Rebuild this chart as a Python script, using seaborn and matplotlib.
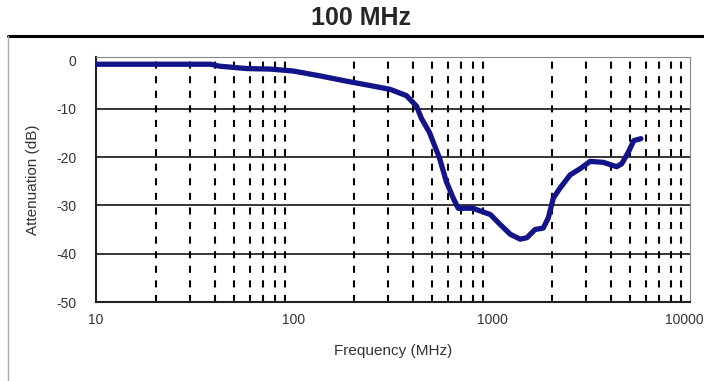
import numpy as np
import pandas as pd
import matplotlib
matplotlib.use("Agg")
import matplotlib.pyplot as plt
import matplotlib.transforms as mtransforms
from matplotlib.lines import Line2D
import seaborn as sns

# curve: frequency (MHz) and attenuation (dB)
freq = [10, 20, 38, 42, 58, 76, 99, 135, 184, 242, 306, 370, 416, 440, 483,
        544, 588, 637, 675, 800, 981, 1102, 1238, 1390, 1500, 1650, 1815,
        1924, 2040, 2200, 2480, 2790, 3130, 3650, 4260, 4520, 4880, 5200, 5650]
atten = [-0.8, -0.8, -0.8, -1.2, -1.7, -1.8, -2.2, -3.2, -4.3, -5.2, -6.0,
         -7.3, -9.5, -12.0, -14.9, -20.3, -25.1, -28.5, -30.6, -30.6, -31.9,
         -34.0, -36.0, -37.0, -36.7, -35.0, -34.7, -32.6, -28.5, -26.5,
         -23.7, -22.4, -20.9, -21.1, -22.0, -21.4, -19.0, -16.6, -16.2]

y_ticks = [0, -10, -20, -30, -40, -50]
x_ticks = [10, 100, 1000, 10000]
x_tick_labels = ['10', '100', '1000', '10000']

dados = pd.DataFrame({'Frequency (MHz)': freq, 'Attenuation (dB)': atten})

sns.set_style('white')
plt.rcParams['font.family'] = ['Liberation Sans', 'DejaVu Sans']

fig = plt.figure(figsize=(7.04, 3.81), dpi=100)
ax = fig.add_axes([96/704, 1 - 302/381, (690 - 96)/704, (302 - 57)/381])

#Linhas de grade: horizontais sólidas e verticais tracejadas
for v in [-10, -20, -30, -40]:
    ax.axhline(v, color='black', lw=1.1, zorder=1)
for dec in [10, 100, 1000]:
    for k in range(2, 10):
        ax.axvline(dec * k, color='black', lw=1.5, linestyle=(0, (3.4, 3.6)), zorder=1)

sns.lineplot(data=dados, x='Frequency (MHz)', y='Attenuation (dB)', ax=ax,
             color='#14148a', lw=3.8, zorder=3)

ax.set_xscale('log')
ax.set_xlim(10, 10000)
ax.set_ylim(-50, 0.7)
ax.set_xticks(x_ticks)
ax.set_xticklabels(x_tick_labels)
ax.set_yticks(y_ticks)
ax.set_yticklabels([str(t) for t in y_ticks])
ax.minorticks_off()
ax.tick_params(length=0, labelsize=10, labelcolor='#333333')
ax.tick_params(axis='x', pad=8)
ax.tick_params(axis='y', pad=14)

# o último rótulo fica um pouco à esquerda para caber na figura
ultimo = ax.get_xticklabels()[-1]
ultimo.set_transform(ultimo.get_transform() +
                     mtransforms.ScaledTranslation(-6/100, 0, fig.dpi_scale_trans))

ax.set_xlabel('Frequency (MHz)', fontsize=11, color='#333333', labelpad=12)
ax.set_ylabel('Attenuation (dB)', fontsize=11, color='#333333', labelpad=12)

for s in ['left', 'bottom']:
    ax.spines[s].set_color('#222222')
    ax.spines[s].set_linewidth(1.5)
for s in ['top', 'right']:
    ax.spines[s].set_color('#888888')
    ax.spines[s].set_linewidth(0.8)

fig.text(361/704, 1 - 18/381, '100 MHz', ha='center', va='center',
         fontsize=18, fontweight='bold')

#Moldura em volta do gráfico
fig.add_artist(Line2D([8/704, 1], [1 - 36/381] * 2, color='black', lw=2.2))
fig.add_artist(Line2D([8/704, 8/704], [0, 1 - 36/381], color='#aaaaaa', lw=1))

fig.savefig('out.png', dpi=100)
